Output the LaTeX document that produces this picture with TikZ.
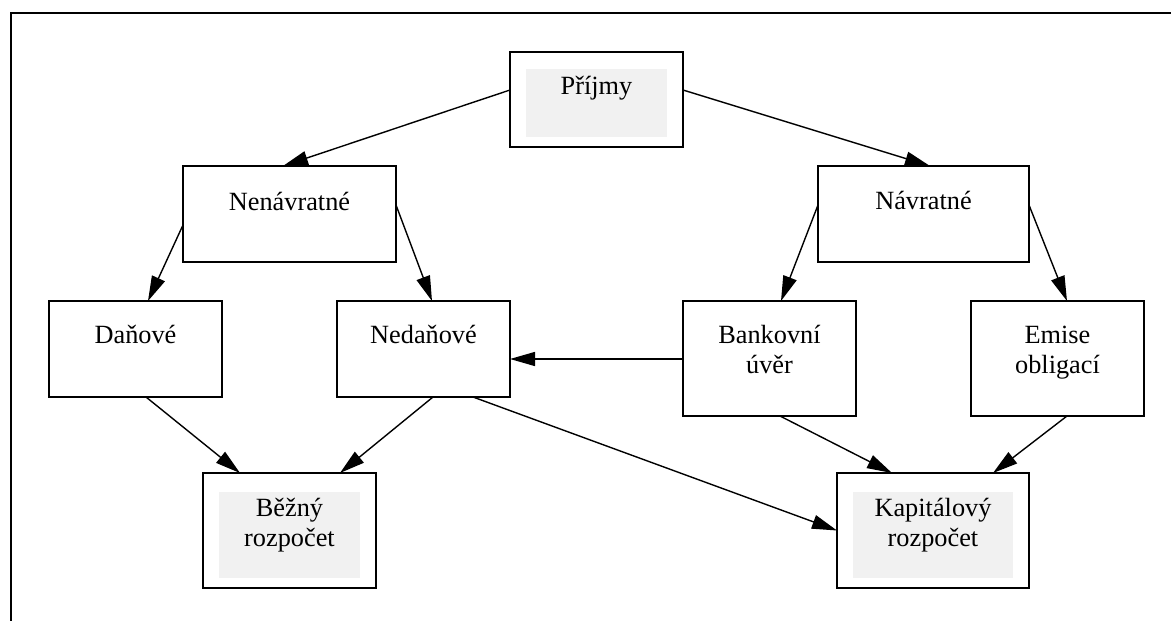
\documentclass[tikz,border=0pt]{standalone}
\usepackage{fontspec}
\setmainfont{Liberation Serif}
\usetikzlibrary{arrows.meta}
\definecolor{shade}{HTML}{F1F1F1}
\begin{document}
\begin{tikzpicture}[x=1pt,y=-1pt,
  box/.style={draw,fill=white,line width=1.5pt,inner sep=0pt,outer sep=0pt},
  mainbox/.style={box,line width=2.5pt},
  shadebox/.style={fill=shade,inner sep=0pt,outer sep=0pt},
  lbl/.style={font=\fontsize{26.3}{30.5}\selectfont,text width=200pt,align=center,anchor=base,inner sep=0pt},
  arr/.style={line width=1.4pt,-{Triangle[length=25pt,width=14pt]}}]
\useasboundingbox (0,0) rectangle (1171,621);
% frame
\coordinate (f1) at (11,621);
\coordinate (f2) at (11,13);
\coordinate (f3) at (1171,13);
\draw[line width=1.8pt] (f1) -- (f2) -- (f3);
% boxes
\node[mainbox,minimum width=173pt,minimum height=95pt] (pr) at (596.5,99.5) {};
\node[shadebox,minimum width=141pt,minimum height=68pt] (prs) at (596.5,103) {};
\node[lbl] (prt) at (596.5,94) {Příjmy};

\node[box,minimum width=213pt,minimum height=96pt] (nv) at (289.5,214) {};
\node[lbl] (nvt) at (289.5,210) {Nenávratné};

\node[box,minimum width=211pt,minimum height=96pt] (na) at (923.5,214) {};
\node[lbl] (nat) at (923.5,209) {Návratné};

\node[box,minimum width=173pt,minimum height=96pt] (da) at (135.5,349) {};
\node[lbl] (dat) at (135.5,343) {Daňové};

\node[box,minimum width=173pt,minimum height=96pt] (nd) at (423.5,349) {};
\node[lbl] (ndt) at (423.5,343) {Nedaňové};

\node[box,minimum width=173pt,minimum height=115pt] (bu) at (769.5,358.5) {};
\node[lbl] (but) at (769.5,343) {Bankovní\\úvěr};

\node[box,minimum width=173pt,minimum height=115pt] (em) at (1057.5,358.5) {};
\node[lbl] (emt) at (1057.5,343) {Emise\\obligací};

\node[mainbox,minimum width=173pt,minimum height=115pt] (be) at (289.5,530.5) {};
\node[shadebox,minimum width=141pt,minimum height=86pt] (bes) at (289.5,535) {};
\node[lbl] (bet) at (289.5,516) {Běžný\\rozpočet};

\node[mainbox,minimum width=192pt,minimum height=115pt] (ka) at (933,530.5) {};
\node[shadebox,minimum width=160pt,minimum height=86pt] (kas) at (933,535) {};
\node[lbl] (kat) at (933,516) {Kapitálový\\rozpočet};

% connectors
\draw[arr] ([yshift=9.5pt]pr.west) -- ([xshift=-6.5pt]nv.north);
\draw[arr] ([yshift=9.5pt]pr.east) -- ([xshift=6.5pt]na.north);
\draw[arr] ([yshift=-11pt]nv.west) -- ([xshift=12.5pt]da.north);
\draw[arr] ([yshift=9pt]nv.east) -- ([xshift=8.5pt]nd.north);
\draw[arr] ([yshift=9pt]na.west) -- ([xshift=11.5pt]bu.north);
\draw[arr] ([yshift=9pt]na.east) -- ([xshift=9.5pt]em.north);
\draw[arr] ([yshift=-0.5pt]bu.west) -- ([yshift=-10pt]nd.east);
\draw[arr] ([xshift=10.5pt]da.south) -- ([xshift=-49.5pt]be.north);
\draw[arr] ([xshift=9.5pt]nd.south) -- ([xshift=50.5pt]be.north);
\draw[arr] ([xshift=49.5pt]nd.south) -- (ka.west);
\draw[arr] ([xshift=10.5pt]bu.south) -- ([xshift=-41pt]ka.north);
\draw[arr] ([xshift=9.5pt]em.south) -- ([xshift=60pt]ka.north);
\end{tikzpicture}
\end{document}
